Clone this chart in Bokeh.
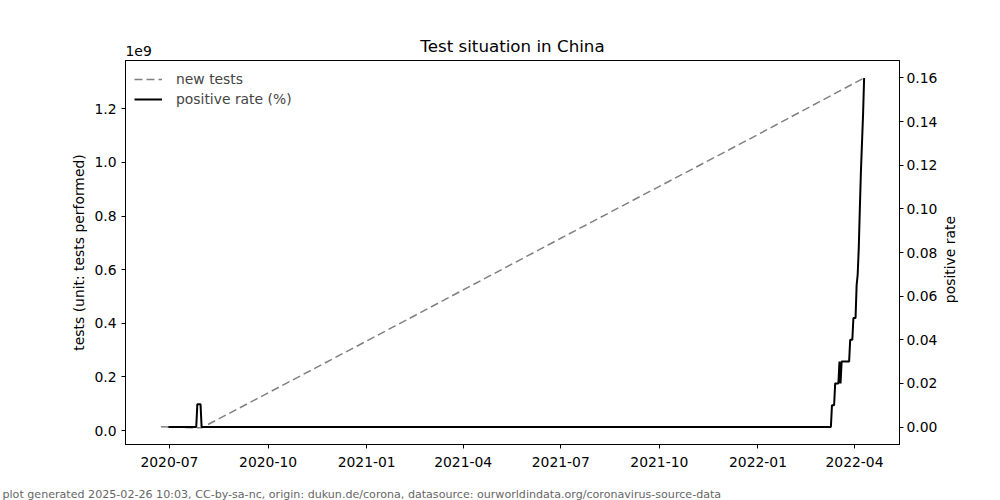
import math
import numpy as np
import pandas as pd
from bokeh.plotting import figure
from bokeh.layouts import row, column
from bokeh.core.properties import value
from bokeh.models import (Range1d, LinearAxis, FixedTicker, CustomJSTickFormatter,
                          DatetimeTickFormatter, Legend, LegendItem, Title, ColumnDataSource)
from bokeh.embed import file_html
from bokeh.resources import INLINE

# ---- data ----
tests_dates = ["2020-06-23", "2020-07-31", "2021-01-01", "2021-07-01", "2022-01-01", "2022-04-10"]
tests_values = [0.014e9, 0.010e9, 0.334e9, 0.717e9, 1.104e9, 1.315e9]

rate_dates = ["2020-06-30", "2020-07-26", "2020-07-27", "2020-07-30", "2020-07-31",
              "2022-03-10", "2022-03-11", "2022-03-13", "2022-03-14", "2022-03-17",
              "2022-03-18", "2022-03-19", "2022-03-20", "2022-03-21", "2022-03-27",
              "2022-03-28", "2022-03-30", "2022-03-31", "2022-04-02", "2022-04-03",
              "2022-04-04", "2022-04-05", "2022-04-06", "2022-04-07", "2022-04-08",
              "2022-04-09", "2022-04-10"]
rate_values = [0, 0, 0.0104, 0.0104, 0,
               0, 0.01, 0.01, 0.02, 0.02,
               0.03, 0.02, 0.03, 0.03, 0.03,
               0.04, 0.04, 0.05, 0.05, 0.065,
               0.07, 0.082, 0.10, 0.117, 0.13,
               0.143, 0.16]

x_tick_dates = ["2020-07-01", "2020-10-01", "2021-01-01", "2021-04-01", "2021-07-01",
                "2021-10-01", "2022-01-01", "2022-04-01"]
left_ticks = [0.0, 0.2e9, 0.4e9, 0.6e9, 0.8e9, 1.0e9, 1.2e9]
right_ticks = [0.00, 0.02, 0.04, 0.06, 0.08, 0.10, 0.12, 0.14, 0.16]

title = "Test situation in China"
left_label = "tests (unit: tests performed)"
right_label = "positive rate"
footer = "plot generated 2025-02-26 10:03, CC-by-sa-nc, origin: dukun.de/corona, datasource: ourworldindata.org/coronavirus-source-data"

FONT = "DejaVu Sans"
FS = "13.9px"

def ms(d):
    return pd.Timestamp(d).value / 1e6

tsrc = ColumnDataSource(dict(x=pd.to_datetime(tests_dates), y=tests_values))
rsrc = ColumnDataSource(dict(x=pd.to_datetime(rate_dates), y=rate_values))

MAIN_W, MAIN_H = 940, 486

p = figure(width=MAIN_W, height=MAIN_H, output_backend="svg", toolbar_location=None,
           x_axis_type="datetime",
           x_range=Range1d(ms("2020-05-21"), ms("2022-05-13")),
           y_range=Range1d(-0.052e9, 1.380e9),
           min_border_left=125, min_border_right=40, min_border_top=60, min_border_bottom=42,
           title=title)
p.title.align = "center"
p.title.text_font = FONT
p.title.text_font_size = "16.7px"
p.title.text_font_style = "normal"
p.title.text_color = "black"
try:
    p.title.standoff = -35
except Exception:
    pass

p.extra_y_ranges = {"rate": Range1d(-0.008, 0.168)}

p.xgrid.visible = False
p.ygrid.visible = False
p.outline_line_color = "black"
p.outline_line_width = 1
p.background_fill_color = "white"
p.border_fill_color = "white"

def style_axis(ax):
    ax.axis_line_color = "black"
    ax.major_tick_line_color = "black"
    ax.minor_tick_line_color = None
    ax.major_tick_in = 0
    ax.major_tick_out = 4
    ax.major_label_text_font = FONT
    ax.major_label_text_font_size = FS
    ax.major_label_text_color = "black"
    ax.axis_label_text_font = FONT
    ax.axis_label_text_font_size = FS
    ax.axis_label_text_font_style = "normal"
    ax.axis_label_text_color = "black"

xa = p.xaxis[0]
xa.ticker = FixedTicker(ticks=[ms(d) for d in x_tick_dates])
xa.formatter = DatetimeTickFormatter(days="%Y-%m", months="%Y-%m", years="%Y-%m")
style_axis(xa)
xa.major_label_standoff = 8

ya = p.yaxis[0]
ya.ticker = FixedTicker(ticks=left_ticks)
ya.formatter = CustomJSTickFormatter(code="return (tick/1e9).toFixed(1);")
ya.axis_label = left_label
style_axis(ya)
ya.major_label_standoff = 5
ya.axis_label_standoff = 4

ra = LinearAxis(y_range_name="rate", ticker=FixedTicker(ticks=right_ticks))
ra.formatter = CustomJSTickFormatter(code="return tick.toFixed(2);")
style_axis(ra)
ra.major_label_standoff = 3
p.add_layout(ra, "right")

r1 = p.line("x", "y", source=tsrc, line_color="gray", line_width=1.5, line_dash="8 4")
r2 = p.line("x", "y", source=rsrc, y_range_name="rate", line_color="black", line_width=2)

legend = Legend(items=[LegendItem(label="new tests", renderers=[r1]),
                       LegendItem(label="positive rate (%)", renderers=[r2])],
                location="top_left")
legend.border_line_color = None
legend.background_fill_alpha = 0
legend.label_text_font = FONT
legend.label_text_font_size = FS
legend.glyph_width = 28
legend.glyph_height = 20
legend.label_height = 20
legend.label_standoff = 14
legend.spacing = 0
legend.padding = 4
legend.margin = 9
p.add_layout(legend)

offset_title = Title(text="1e9", align="left", text_font=FONT, text_font_size=FS,
                     text_font_style="normal", text_color="black")
p.add_layout(offset_title, "above")

def blank(w, h):
    f = figure(width=w, height=h, output_backend="svg", toolbar_location=None,
               x_range=Range1d(0, w), y_range=Range1d(0, h),
               x_axis_location=None, y_axis_location=None,
               min_border=0, min_border_left=0, min_border_right=0,
               min_border_top=0, min_border_bottom=0)
    f.grid.visible = False
    f.outline_line_color = None
    f.background_fill_color = "white"
    f.border_fill_color = "white"
    return f

# right-hand strip carrying the secondary axis title (reads bottom-to-top)
strip = blank(1000 - MAIN_W, MAIN_H)
strip.text(x=[9], y=[MAIN_H - 252], text=[right_label], angle=math.pi / 2,
           text_align="center", text_baseline="middle",
           text_font=value(FONT), text_font_size=value(FS), text_color="black")

# footer strip
foot = blank(1000, 500 - MAIN_H)
foot.text(x=[2], y=[6], text=[footer], text_align="left", text_baseline="middle",
          text_font=value(FONT), text_font_size=value("11.1px"), text_color="#666666")

layout = column(row(p, strip), foot)

open("out.html", "w").write(file_html(layout, INLINE))
